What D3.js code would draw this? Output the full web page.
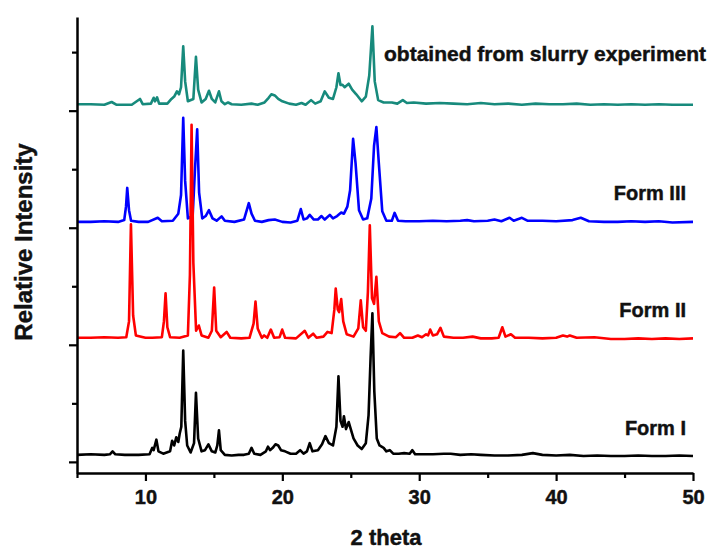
<!DOCTYPE html>
<html>
<head>
<meta charset="utf-8">
<script src="https://cdn.jsdelivr.net/npm/d3@7"></script>
<style>
  body { margin: 0; background: #fff; }
  svg text { font-family: "Liberation Sans", Arial, sans-serif; font-weight: bold; fill: #111; stroke: #111; stroke-width: 0.45px; }
</style>
</head>
<body>
<svg></svg>
<script>
// [2 theta, intensity] (intensity in the same units, 100 = one stack step)
const formI = [[5,6],[6,6.5],[7,6],[7.4,6.5],[7.6,9],[7.8,6.5],[8.5,6],[9.5,6],[10.3,6.5],[10.5,12],[10.6,10],[10.8,19],[10.95,9],[11.3,7],[11.8,9],[11.95,18],[12.1,14],[12.25,21],[12.4,17],[12.5,24],[12.62,30],[12.76,95],[12.9,35],[13.05,14],[13.3,8],[13.55,16],[13.69,59],[13.85,20],[14.1,9],[14.35,10],[14.6,15],[14.85,9],[15.1,8],[15.25,14],[15.37,27],[15.5,10],[15.8,6],[16.3,5.5],[16.8,6],[17.2,6],[17.55,7],[17.75,12],[17.95,7],[18.4,6],[18.8,9],[18.95,13],[19.1,10],[19.3,12],[19.5,15],[19.7,14],[19.9,10],[20.2,9],[20.6,7],[21.0,7],[21.3,10],[21.55,7],[21.8,9],[22.0,16],[22.2,9],[22.6,10],[22.9,15],[23.15,22],[23.4,16],[23.7,14],[23.95,30],[24.1,73],[24.25,35],[24.4,30],[24.5,39],[24.65,28],[24.85,34],[25.0,28],[25.2,20],[25.5,14],[25.8,11],[26.1,16],[26.3,40],[26.45,90],[26.58,127],[26.72,60],[26.9,20],[27.1,14],[27.4,12],[27.6,9],[27.85,10],[28.1,7],[28.5,7],[28.9,7.5],[29.3,7],[29.5,10],[29.7,6.5],[30.2,6.5],[31,6.5],[31.8,7],[32.3,7],[33,6],[33.8,6.5],[34.5,6],[35.5,5.5],[36.5,5.5],[37.5,6],[38.3,7.5],[39,6],[40,5.5],[41,6],[42,5],[43,5.5],[44,5],[45,5],[46,5.5],[47,5],[48,5],[49,5.5],[50,5]];

const formII = [[5,6],[6,6],[7,6.5],[8,6],[8.6,6.5],[8.8,20],[8.94,103],[9.1,25],[9.3,8],[10,6],[10.5,6],[11.2,6.5],[11.35,20],[11.47,44],[11.6,15],[11.8,6.5],[12.5,6],[13.1,8],[13.25,60],[13.37,188],[13.5,70],[13.7,12],[13.9,16.5],[14.1,8],[14.6,6],[14.85,12],[15.02,49],[15.17,12],[15.5,6.5],[15.93,11],[16.2,6],[17,5.5],[17.6,6],[17.9,18],[18.04,37],[18.2,14],[18.5,6],[18.67,8],[18.9,6],[19.16,13],[19.4,6],[19.8,6.5],[19.99,13],[20.2,6],[21,5.5],[21.64,12],[21.9,6],[22.25,9.5],[22.5,6],[23,7],[23.3,11],[23.6,10],[23.8,30],[23.9,48],[24.05,30],[24.15,28],[24.3,39],[24.45,20],[24.7,9],[25.2,7],[25.55,14],[25.73,38],[25.9,15],[26.1,12],[26.25,45],[26.39,102],[26.55,40],[26.7,35],[26.87,58],[27.05,20],[27.3,10],[27.8,7],[28.3,6.5],[28.6,10],[28.9,6],[29.5,6],[29.9,8],[30.2,6.5],[30.5,9],[30.65,8],[30.8,13],[31.0,8],[31.3,9],[31.55,14.5],[31.8,7],[32.5,6],[33.2,6],[33.9,7],[34.5,5.5],[35.3,5.5],[35.8,6],[36.07,15],[36.3,7],[36.7,9],[37,6],[38,6],[39,5.5],[40,6],[40.5,8],[40.8,7],[41,8],[41.5,6],[42.8,6.5],[44,5],[45,5],[46,5.5],[47,5],[48,5.5],[49,5],[50,5.5]];

const formIII = [[5,5],[6,5],[7,5.5],[8,5],[8.45,6.5],[8.58,18],[8.67,34],[8.8,15],[8.95,6],[9.5,5],[10.2,5],[10.9,8.5],[11.2,5.5],[12,6],[12.4,12],[12.6,28],[12.76,94],[12.9,40],[13.1,8],[13.45,10],[13.62,50],[13.78,84],[13.92,30],[14.15,8],[14.4,10],[14.64,15],[14.9,8],[15.2,6],[15.56,9.7],[15.8,6],[16.5,5],[17.2,7],[17.45,17],[17.55,21],[17.75,12],[18,6],[18.5,5],[19,6.5],[19.45,7],[20,5],[20.6,4.5],[21.1,6],[21.35,16],[21.55,7],[21.8,8],[22.0,11],[22.3,7],[22.6,7],[22.86,10],[23.1,7],[23.47,11],[23.7,8],[24.0,10],[24.3,13],[24.5,12],[24.75,18],[24.95,32],[25.17,76],[25.35,55],[25.6,15],[25.9,7],[26.2,8],[26.5,25],[26.7,70],[26.87,86],[27.05,55],[27.3,14],[27.6,6],[28.0,6],[28.2,12.7],[28.45,6],[29,5.5],[30,5.5],[31,6],[32,5.5],[33,6],[33.5,6.5],[34,5.5],[35,6],[35.5,7],[36,5.5],[36.6,8.5],[36.9,6],[37.5,8.5],[37.9,6],[39,6],[40,5.5],[41.2,6.5],[41.8,8.5],[42.4,5.5],[43.5,5],[44.5,5],[45.5,5.5],[46.5,5],[47.5,5.5],[48.5,4.5],[50,5]];

const slurry = [[5,5.5],[6,5.5],[7,5],[7.53,7.4],[7.9,5],[9,5],[9.6,10],[9.8,5.5],[10.4,6],[10.6,11],[10.7,8],[10.85,11.4],[11,6],[11.6,6],[11.9,10],[12.1,12],[12.3,16.5],[12.45,14],[12.6,20],[12.76,55],[12.9,25],[13.1,8],[13.5,10],[13.69,46],[13.85,18],[14.1,7],[14.4,10],[14.64,17],[14.85,10],[15.1,7],[15.37,16.5],[15.55,8],[15.8,5.5],[16.04,7],[16.3,5.5],[17,5],[17.75,6],[18.2,5],[18.7,7],[19.0,11],[19.2,14],[19.45,13],[19.7,10],[20,8],[20.5,6],[21,5],[21.4,6.5],[21.7,5],[22.1,9],[22.4,6],[22.8,8],[23.1,16.5],[23.4,11],[23.7,10],[23.95,20],[24.1,32],[24.25,22],[24.4,22],[24.55,20],[24.85,23],[25.1,18],[25.4,14],[25.8,8],[26.1,12],[26.35,30],[26.58,72],[26.75,25],[27.0,9],[27.4,7],[28,7],[28.4,6],[28.8,9],[29.1,6.5],[29.6,7],[30.5,6],[31.5,6.5],[32.5,6],[33.5,5.5],[34.5,6.5],[35.5,5.5],[36.5,6],[37.5,5],[38.5,6],[39.5,5.5],[40.5,5.5],[41.5,6],[42.5,5],[43.5,5.5],[44.5,5],[45.5,5.5],[46.5,5],[47.5,5.5],[48.5,5],[50,5]];

const seriesNames = ["obtained from slurry experiment", "Form III", "Form II", "Form I"];
const seriesOffsets = [300, 200, 100, 0];
const xMajorTicks = [10, 20, 30, 40, 50];
const xMinorTicks = [5, 15, 25, 35, 45];
const yMajorTicks = [0, 100, 200, 300];
const yMinorTicks = [50, 150, 250, 350];

const w = 713;
const h = 550;
const margin = { top: 17, right: 20, bottom: 77, left: 77 };
const chartW = 616;
const chartH = h - margin.top - margin.bottom;

const svg = d3.select("svg").attr("width", w).attr("height", h);
const chart = svg.append("g")
  .attr("transform", `translate(${margin.left}, ${margin.top})`);

const xScale = d3.scaleLinear().domain([5, 50]).range([0, chartW]);
const yScale = d3.scaleLinear().domain([-9.5, 380]).range([chartH, 0]);

// traces, black drawn last so it sits on top
const traces = [
  { data: slurry, offset: seriesOffsets[0], color: "#178a7c" },
  { data: formIII, offset: seriesOffsets[1], color: "#0000ff" },
  { data: formII, offset: seriesOffsets[2], color: "#ff0000" },
  { data: formI, offset: seriesOffsets[3], color: "#000000" }
];

traces.forEach(t => {
  const line = d3.line()
    .x(d => xScale(d[0]))
    .y(d => yScale(d[1] + t.offset));
  chart.append("path")
    .datum(t.data)
    .attr("fill", "none")
    .attr("stroke", t.color)
    .attr("stroke-width", 2.6)
    .attr("stroke-linejoin", "round")
    .attr("d", line);
});

// x axis, major + minor ticks
const xAxisG = chart.append("g")
  .attr("transform", `translate(0, ${chartH})`)
  .call(d3.axisBottom(xScale).tickValues(xMajorTicks).tickSize(8).tickSizeOuter(0).tickPadding(9));
chart.append("g")
  .attr("transform", `translate(0, ${chartH})`)
  .call(d3.axisBottom(xScale).tickValues(xMinorTicks).tickSize(5).tickFormat("").tickSizeOuter(0))
  .select(".domain").remove();

// y axis, no labels
chart.append("g")
  .call(d3.axisLeft(yScale).tickValues(yMajorTicks).tickSize(8).tickFormat("").tickSizeOuter(0));
chart.append("g")
  .call(d3.axisLeft(yScale).tickValues(yMinorTicks).tickSize(5).tickFormat("").tickSizeOuter(0))
  .select(".domain").remove();

chart.selectAll(".domain").attr("stroke", "#000").attr("stroke-width", 2.5);
chart.selectAll(".tick line").attr("stroke", "#000").attr("stroke-width", 2.2);
xAxisG.selectAll(".tick text")
  .style("font-size", "20px")
  .attr("fill", "#111");

// series labels
const labelPos = [
  { x: 384, y: 61, anchor: "start", size: 21 },
  { x: 686, y: 200, anchor: "end", size: 20 },
  { x: 686, y: 317, anchor: "end", size: 20 },
  { x: 686, y: 435, anchor: "end", size: 20 }
];
seriesNames.forEach((name, i) => {
  svg.append("text")
    .attr("x", labelPos[i].x)
    .attr("y", labelPos[i].y)
    .attr("text-anchor", labelPos[i].anchor)
    .style("font-size", labelPos[i].size + "px")
    .text(name);
});

// Add title X
svg.append("text")
  .attr("x", 386)
  .attr("y", 545)
  .attr("text-anchor", "middle")
  .style("font-size", "22px")
  .text("2 theta");

// Add title Y
svg.append("text")
  .attr("transform", "translate(32, 242) rotate(-90)")
  .attr("text-anchor", "middle")
  .style("font-size", "24px")
  .text("Relative Intensity");
</script>
</body>
</html>
